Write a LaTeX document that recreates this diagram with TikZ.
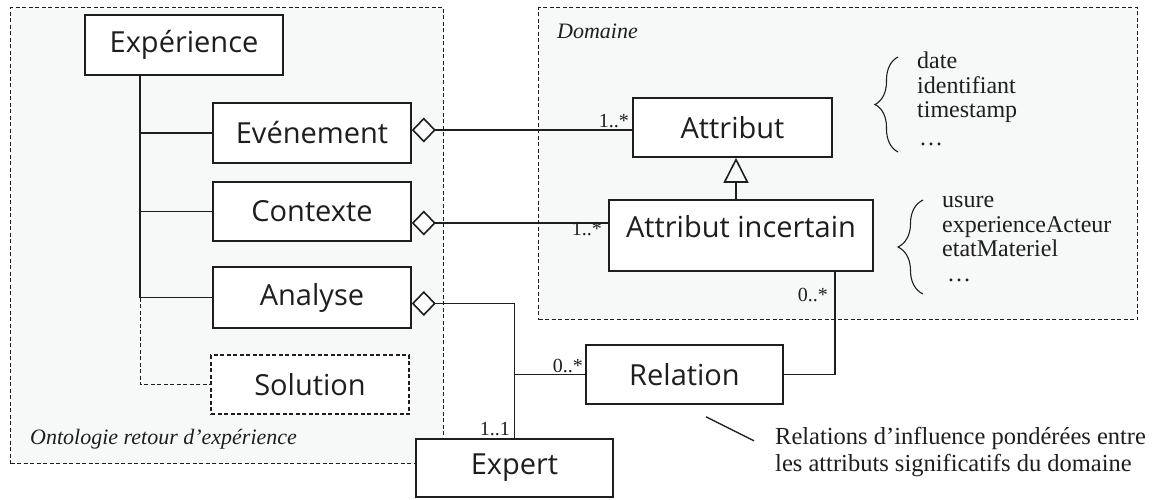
\documentclass[tikz,border=0pt]{standalone}
\usepackage{fontspec}
\setmainfont{Liberation Serif}
\newfontfamily\boxfont{Open Sans}
\usetikzlibrary{arrows.meta,decorations.pathreplacing,calc}
\definecolor{panel}{RGB}{247,248,248}
\definecolor{ink}{RGB}{30,30,30}

\begin{document}
\begin{tikzpicture}[x=1pt,y=-1pt,
  panelbox/.style={draw=ink, fill=panel, line width=1pt, dash pattern=on 4pt off 2.5pt, inner sep=0pt, anchor=north west},
  classbox/.style={draw=ink, fill=white, line width=1.6pt, inner sep=0pt, text=ink,
    font=\boxfont\fontsize{29}{31}\selectfont},
  optbox/.style={classbox, line width=1.3pt, dash pattern=on 4pt off 2.5pt},
  conn/.style={draw=ink, line width=1.6pt},
  optconn/.style={draw=ink, line width=1.2pt, dash pattern=on 4pt off 2.5pt},
  agg/.style={conn, {Diamond[fill=white, length=24pt, width=25pt]}-},
  gen/.style={conn, -{Triangle[open, length=25pt, width=25pt]}},
  mult/.style={font=\fontsize{20}{21}\selectfont, text=ink, inner sep=0pt},
  caption/.style={font=\itshape\fontsize{22}{24}\selectfont, text=ink, inner sep=0pt},
  listtext/.style={font=\fontsize{24}{24.5}\selectfont, text=ink, inner sep=0pt, align=left},
  bracestyle/.style={draw=ink, line width=1.1pt, decorate},
]
\useasboundingbox (0,0) rectangle (1152,499);

% package areas
\node[panelbox, minimum width=433pt, minimum height=456pt] (onto) at (10,7) {};
\node[panelbox, minimum width=599pt, minimum height=312pt] (dom) at (538,7) {};
\node[caption, anchor=base west] (domlabel) at (557,38) {Domaine};
\node[caption, anchor=base west] (ontolabel) at (30,444) {Ontologie retour d’expérience};

% classes
\node[classbox, minimum width=198pt, minimum height=60pt] (exp) at (184,45) {Expérience};
\node[classbox, minimum width=198pt, minimum height=60pt] (evt) at (312,133) {Evénement};
\node[classbox, minimum width=198pt, minimum height=59pt] (ctx) at (312,211.5) {Contexte};
\node[classbox, minimum width=198pt, minimum height=61pt] (ana) at (312,297.5) {Analyse};
\node[optbox, minimum width=198pt, minimum height=59pt] (sol) at (310,384.5) {Solution};
\node[classbox, minimum width=199pt, minimum height=59pt] (attr) at (732.5,127.5) {Attribut};
\node[classbox, minimum width=264pt, minimum height=71pt] (attri) at (741,235.5) {};
\node[classbox, draw=none, fill=none] (attrilabel) at (741,227) {Attribut incertain};
\node[classbox, minimum width=197pt, minimum height=59pt] (rel) at (684.5,374.5) {Relation};
\node[classbox, minimum width=197pt, minimum height=58pt] (expert) at (514.5,468) {Expert};

% composition tree of the experience
\coordinate (tr) at ($(exp.south west)+(56,0)$);
\draw[conn] (tr) -- (tr |- ana.west) -- (ana.west);
\draw[conn] (tr |- evt.west) -- (evt.west);
\draw[conn] (tr |- ctx.west) -- (ctx.west);
\draw[optconn] (tr |- ana.west) |- (sol.west);

% aggregations
\coordinate (evtagg) at ($(evt.east)+(0,-3)$);
\coordinate (ctxagg) at ($(ctx.east)+(0,11.5)$);
\coordinate (anaagg) at ($(ana.east)+(0,6)$);
\draw[agg] (evtagg) -- (evtagg -| attr.west);
\draw[agg] (ctxagg) -- (ctxagg -| attri.west);
\draw[agg] (anaagg) -| (expert.north);
\draw[conn] (rel.west) -- (rel.west -| expert.north);
\coordinate (attrifoot) at ($(attri.south east)+(-39,0)$);
\draw[conn] (rel.east) -| (attrifoot);

% generalisation
\coordinate (genfoot) at ($(attri.north)+(-5,0)$);
\draw[gen] (genfoot) -- (genfoot |- attr.south);

% multiplicities
\node[mult, anchor=base east] (m1) at (629,127) {1..*};
\node[mult, anchor=base east] (m2) at (602,235) {1..*};
\node[mult, anchor=base east] (m3) at (828,301) {0..*};
\node[mult, anchor=base east] (m4) at (583,372) {0..*};
\node[mult, anchor=base east] (m5) at (510,435) {1..1};

% attribute examples
\node[listtext, anchor=north west] (list1) at (917,52) {date\\identifiant\\timestamp\\[3pt]\hspace{2pt}…};
\draw[bracestyle, decoration={brace, amplitude=23pt}] (898,152) -- (898,57);
\node[listtext, anchor=north west] (list2) at (942,196) {usure\\experienceActeur\\etatMateriel\\\hspace{5pt}…};
\draw[bracestyle, decoration={brace, amplitude=25pt}] (923,294) -- (923,200);

% note on relations
\coordinate (notea) at ($(rel.south)+(21.5,12)$);
\coordinate (noteb) at ($(rel.south)+(69.5,36)$);
\draw[conn, line width=1.4pt] (notea) -- (noteb);
\node[listtext, font=\fontsize{24.5}{27}\selectfont, anchor=west] (note) at (775,452)
  {Relations d’influence pondérées entre\\les attributs significatifs du domaine};
\end{tikzpicture}
\end{document}
